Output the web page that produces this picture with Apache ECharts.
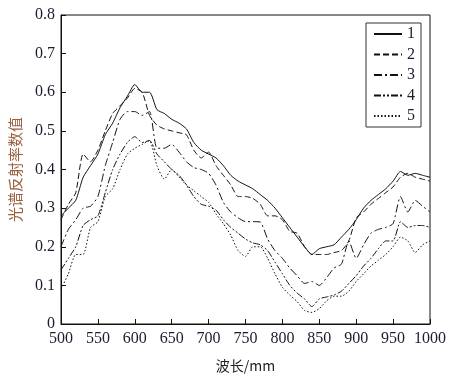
<!DOCTYPE html>
<html lang="zh">
<head>
<meta charset="UTF-8">
<title>光谱反射率</title>
<script src="https://cdn.jsdelivr.net/npm/echarts@6/dist/echarts.min.js"></script>
<style>
  html, body { margin: 0; padding: 0; background: #fff; }
  #main { width: 451px; height: 378px; }
</style>
</head>
<body>
<div id="main"></div>
<script type="text/javascript">
// 波长 (nm)
var wavelength = [500, 510, 520, 530, 540, 550, 560, 570, 580, 590,
  600, 610, 620, 630, 640, 650, 660, 670, 680, 690,
  700, 710, 720, 730, 740, 750, 760, 770, 780, 790,
  800, 810, 820, 830, 840, 850, 860, 870, 880, 890,
  900, 910, 920, 930, 940, 950, 960, 970, 980, 990, 1000];

var s1 = [0.28, 0.30, 0.32, 0.38, 0.41, 0.44, 0.49, 0.52, 0.56, 0.59,
  0.62, 0.60, 0.60, 0.555, 0.545, 0.53, 0.52, 0.505, 0.47, 0.45,
  0.44, 0.43, 0.41, 0.385, 0.37, 0.36, 0.35, 0.335, 0.32, 0.30,
  0.275, 0.25, 0.225, 0.20, 0.18, 0.195, 0.20, 0.205, 0.225, 0.245,
  0.27, 0.30, 0.32, 0.335, 0.35, 0.37, 0.395, 0.385, 0.39, 0.385, 0.38];

var s2 = [0.27, 0.31, 0.34, 0.44, 0.42, 0.45, 0.50, 0.545, 0.565, 0.585,
  0.61, 0.60, 0.54, 0.515, 0.505, 0.50, 0.495, 0.49, 0.45, 0.43,
  0.445, 0.41, 0.385, 0.36, 0.33, 0.33, 0.325, 0.31, 0.28, 0.28,
  0.27, 0.24, 0.235, 0.20, 0.18, 0.18, 0.18, 0.185, 0.19, 0.215,
  0.275, 0.29, 0.31, 0.325, 0.34, 0.355, 0.38, 0.39, 0.38, 0.375, 0.37];

var s3 = [0.20, 0.245, 0.27, 0.30, 0.305, 0.33, 0.41, 0.47, 0.53, 0.55,
  0.55, 0.54, 0.55, 0.455, 0.455, 0.465, 0.445, 0.42, 0.405, 0.40,
  0.39, 0.36, 0.315, 0.29, 0.275, 0.265, 0.265, 0.264, 0.22, 0.19,
  0.17, 0.145, 0.125, 0.105, 0.11, 0.10, 0.12, 0.145, 0.155, 0.215,
  0.17, 0.205, 0.235, 0.245, 0.25, 0.26, 0.33, 0.29, 0.32, 0.305, 0.29];

var s4 = [0.14, 0.17, 0.20, 0.255, 0.27, 0.28, 0.34, 0.40, 0.44, 0.47,
  0.485, 0.47, 0.475, 0.44, 0.42, 0.40, 0.385, 0.36, 0.33, 0.31,
  0.305, 0.295, 0.27, 0.25, 0.235, 0.22, 0.21, 0.205, 0.19, 0.16,
  0.13, 0.10, 0.08, 0.065, 0.045, 0.065, 0.07, 0.075, 0.085, 0.105,
  0.125, 0.15, 0.17, 0.195, 0.215, 0.215, 0.265, 0.25, 0.255, 0.255, 0.25];

var s5 = [0.09, 0.13, 0.18, 0.18, 0.25, 0.265, 0.33, 0.35, 0.40, 0.44,
  0.455, 0.465, 0.475, 0.41, 0.375, 0.40, 0.38, 0.36, 0.345, 0.33,
  0.315, 0.285, 0.26, 0.23, 0.19, 0.175, 0.20, 0.20, 0.17, 0.13,
  0.095, 0.075, 0.058, 0.035, 0.03, 0.04, 0.06, 0.072, 0.072, 0.085,
  0.11, 0.13, 0.15, 0.165, 0.18, 0.20, 0.225, 0.215, 0.185, 0.205, 0.215];

var names = ['1', '2', '3', '4', '5'];
var values = [s1, s2, s3, s4, s5];
var dashes = ['solid', [6, 3], [8, 3, 2, 3], [7, 2, 2, 2, 2, 2], [1.5, 2]];

function pairs(arr) {
  return wavelength.map(function (w, i) { return [w, arr[i]]; });
}

var serif = 'Liberation Serif';
var tickColor = '#1c1c30';

var chart = echarts.init(document.getElementById('main'));

var option = {
  animation: false,
  backgroundColor: '#fff',
  grid: {
    left: 58, right: 21, top: 15, bottom: 52,
    show: true, borderColor: '#111', borderWidth: 1
  },
  legend: {
    orient: 'vertical',
    right: 30,
    top: 23,
    itemWidth: 28,
    itemHeight: 14,
    itemGap: 4.5,
    padding: [3, 6, 3, 7],
    borderColor: '#333',
    borderWidth: 1,
    backgroundColor: '#fff',
    itemStyle: { opacity: 0 },
    textStyle: { fontFamily: serif, fontSize: 16, color: tickColor },
    data: names
  },
  xAxis: {
    type: 'value',
    min: 500, max: 1000, interval: 50,
    name: '波长/mm',
    nameLocation: 'middle',
    nameGap: 35,
    nameTextStyle: { fontFamily: 'Noto Sans CJK SC', fontSize: 14, color: '#222' },
    axisLine: { lineStyle: { color: '#111', width: 1 } },
    axisTick: { inside: true, length: 5, lineStyle: { color: '#111' } },
    axisLabel: {
      fontFamily: serif, fontSize: 16, color: tickColor, margin: 7,
      formatter: function (v) { return String(v); }
    },
    splitLine: { show: false }
  },
  yAxis: {
    type: 'value',
    min: 0, max: 0.8, interval: 0.1,
    name: '光谱反射率数值',
    nameLocation: 'middle',
    nameGap: 38,
    nameTextStyle: { fontFamily: 'Noto Sans CJK SC', fontSize: 15, color: '#9a6040' },
    axisLine: { lineStyle: { color: '#111', width: 1 } },
    axisTick: { inside: true, length: 5, lineStyle: { color: '#111' } },
    axisLabel: {
      fontFamily: serif, fontSize: 16, color: tickColor, margin: 6,
      formatter: function (v) { return v === 0 ? '0' : v.toFixed(1); }
    },
    splitLine: { show: false }
  },
  series: names.map(function (n, i) {
    return {
      name: n,
      type: 'line',
      symbol: 'none',
      smooth: 0.2,
      data: pairs(values[i]),
      lineStyle: { color: '#111', width: 1, type: dashes[i] },
      itemStyle: { color: '#111' }
    };
  })
};

chart.setOption(option);
</script>
</body>
</html>
